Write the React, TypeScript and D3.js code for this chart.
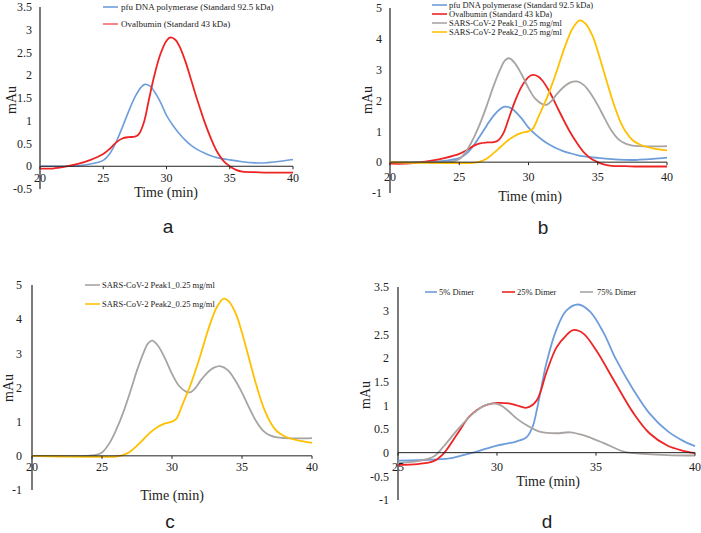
import React from "react";
import * as d3 from "d3";

type Pt = [number, number];

// ---- Data (time in min, absorbance in mAu) ----
const pfuPolymerase: Pt[] = [
  [20, 0], [21, 0], [22, 0], [23, 0.01], [24, 0.05], [25, 0.13], [25.5, 0.27], [26, 0.52],
  [26.5, 0.85], [27, 1.2], [27.5, 1.52], [28, 1.74], [28.3, 1.8], [28.7, 1.76], [29, 1.66],
  [29.5, 1.42], [30, 1.12], [30.5, 0.9], [31, 0.72], [31.5, 0.57], [32, 0.45], [32.5, 0.36],
  [33, 0.29], [33.5, 0.23], [34, 0.19], [35, 0.14], [36, 0.1], [37, 0.075], [37.5, 0.07],
  [38, 0.08], [39, 0.11], [40, 0.15],
];
const ovalbumin: Pt[] = [
  [20, -0.05], [21, -0.05], [22, -0.01], [23, 0.05], [24, 0.14], [25, 0.27], [25.5, 0.38],
  [26, 0.52], [26.5, 0.61], [27, 0.64], [27.5, 0.65], [27.8, 0.7], [28.2, 0.95], [28.6, 1.45],
  [29, 1.95], [29.5, 2.45], [30, 2.76], [30.3, 2.83], [30.7, 2.78], [31, 2.65], [31.5, 2.3],
  [32, 1.85], [32.5, 1.4], [33, 0.98], [33.5, 0.62], [34, 0.32], [34.5, 0.12], [35, 0.0],
  [35.5, -0.08], [36, -0.12], [37, -0.13], [38, -0.14], [39, -0.14], [40, -0.14],
];
const sarsPeak1: Pt[] = [
  [20, 0], [22, -0.01], [24, 0], [24.5, 0.02], [25, 0.1], [25.5, 0.35], [26, 0.75], [26.5, 1.25],
  [27, 1.85], [27.5, 2.5], [28, 3.05], [28.3, 3.3], [28.6, 3.37], [29, 3.22], [29.5, 2.85],
  [30, 2.4], [30.5, 2.05], [31, 1.88], [31.3, 1.86], [31.7, 2.0], [32, 2.18], [32.5, 2.42],
  [33, 2.58], [33.5, 2.62], [34, 2.5], [34.5, 2.22], [35, 1.85], [35.5, 1.42], [36, 1.02],
  [36.5, 0.74], [37, 0.6], [37.5, 0.54], [38, 0.52], [39, 0.51], [40, 0.52],
];
const sarsPeak2: Pt[] = [
  [20, 0], [22, -0.02], [24, -0.03], [25, -0.03], [26, -0.02], [26.5, 0.02], [27, 0.12],
  [27.5, 0.3], [28, 0.5], [28.5, 0.7], [29, 0.85], [29.5, 0.95], [30, 1.0], [30.3, 1.08],
  [30.7, 1.45], [31, 1.75], [31.3, 2.05], [31.6, 2.4], [32, 2.9], [32.4, 3.45], [32.8, 3.95],
  [33.2, 4.35], [33.7, 4.6], [34.1, 4.5], [34.6, 4.12], [35, 3.6], [35.6, 2.7], [36, 2.1],
  [36.3, 1.7], [36.6, 1.35], [37, 1.0], [37.5, 0.72], [38, 0.58], [38.5, 0.5], [39, 0.45],
  [40, 0.38],
];
const dimer5: Pt[] = [
  [25, -0.17], [26, -0.16], [27, -0.14], [27.6, -0.12], [28.2, -0.06], [28.8, 0.0], [29.4, 0.08],
  [30, 0.15], [30.5, 0.19], [31, 0.24], [31.5, 0.33], [31.8, 0.55], [32, 0.88], [32.25, 1.4],
  [32.5, 1.9], [33, 2.6], [33.5, 3.0], [34.1, 3.13], [34.7, 2.98], [35.4, 2.52], [36, 1.98],
  [36.9, 1.32], [37.7, 0.83], [38.6, 0.46], [39.4, 0.25], [40, 0.14],
];
const dimer25: Pt[] = [
  [25, -0.26], [26, -0.24], [26.8, -0.18], [27.3, -0.02], [28, 0.4], [28.6, 0.76], [29.3, 0.98],
  [30, 1.05], [30.6, 1.04], [31, 1.0], [31.5, 0.95], [32, 1.1], [32.5, 1.7], [33, 2.22],
  [33.5, 2.48], [33.85, 2.59], [34.35, 2.52], [35, 2.17], [35.9, 1.53], [36.9, 0.83],
  [37.7, 0.41], [38.6, 0.15], [39.4, 0.04], [40, -0.01],
];
const dimer75: Pt[] = [
  [25, -0.22], [26, -0.18], [26.8, -0.08], [27.3, 0.13], [28, 0.48], [28.8, 0.83], [29.4, 1.0],
  [29.8, 1.04], [30.2, 1.0], [30.6, 0.87], [31, 0.72], [31.5, 0.58], [32.2, 0.44], [33, 0.41],
  [33.7, 0.43], [34.35, 0.37], [35.4, 0.2], [36.4, 0.02], [36.9, -0.01], [38.6, -0.05],
  [40, -0.06],
];

const ticksA_x = [20, 25, 30, 35, 40];
const ticksA_y = [-0.5, 0, 0.5, 1, 1.5, 2, 2.5, 3, 3.5];
const ticksB_y = [-1, 0, 1, 2, 3, 4, 5];
const ticksD_x = [25, 30, 35, 40];
const ticksD_y = [-1, -0.5, 0, 0.5, 1, 1.5, 2, 2.5, 3, 3.5];

const labelPfu = "pfu DNA polymerase (Standard 92.5 kDa)";
const labelOva = "Ovalbumin (Standard 43 kDa)";
const labelP1 = "SARS-CoV-2 Peak1_0.25 mg/ml";
const labelP2 = "SARS-CoV-2 Peak2_0.25 mg/ml";
const labelD5 = "5% Dimer";
const labelD25 = "25% Dimer";
const labelD75 = "75% Dimer";

const BLUE = "#6e9ddb";
const RED = "#ee2424";
const GRAY = "#a8a4a2";
const YELLOW = "#ffc000";
const SERIF = "'Liberation Serif', 'Times New Roman', serif";
const SANS = "'Liberation Sans', Arial, sans-serif";

type Series = { data: Pt[]; color: string; width: number };
type LegendItem = { label: string; color: string; x1: number; x2: number; tx: number; y: number };

interface PanelProps {
  xDomain: [number, number];
  yDomain: [number, number];
  xRange: [number, number];
  yRange: [number, number];
  xTicks: number[];
  yTicks: number[];
  series: Series[];
  legend: LegendItem[];
  legendSize: number;
  yLabelGap: number;
  xLabelBaseline: number;
  titleX: number;
  titleY: number;
  mauX: number;
  mauY: number;
  letter: string;
  letterX: number;
  letterY: number;
}

function Panel(p: PanelProps) {
  const x = d3.scaleLinear().domain(p.xDomain).range(p.xRange);
  const y = d3.scaleLinear().domain(p.yDomain).range(p.yRange);
  const line = d3
    .line<Pt>()
    .x((d) => x(d[0]))
    .y((d) => y(d[1]))
    .curve(d3.curveCatmullRom.alpha(0.5));
  const y0 = y(0);
  return (
    <g>
      <line x1={p.xRange[0]} x2={p.xRange[0]} y1={p.yRange[1]} y2={p.yRange[0]} stroke="#222" strokeWidth={1.2} />
      {p.yTicks.map((t) => (
        <text key={"y" + t} x={p.xRange[0] - p.yLabelGap} y={y(t)} dy="0.35em" textAnchor="end"
          fontFamily={SERIF} fontSize={12} fill="#222">{String(t)}</text>
      ))}
      {p.series.map((s, i) => (
        <path key={i} d={line(s.data) || ""} fill="none" stroke={s.color} strokeWidth={s.width}
          strokeLinejoin="round" />
      ))}
      <line x1={p.xRange[0]} x2={p.xRange[1]} y1={y0} y2={y0} stroke="#222" strokeWidth={1} />
      {p.xTicks.map((t) => (
        <g key={"x" + t}>
          <line x1={x(t)} x2={x(t)} y1={y0} y2={y0 + 3} stroke="#222" strokeWidth={1} />
          <text x={x(t)} y={p.xLabelBaseline} textAnchor="middle" fontFamily={SERIF} fontSize={12}
            fill="#222">{String(t)}</text>
        </g>
      ))}
      <text x={p.titleX} y={p.titleY} textAnchor="middle" fontFamily={SERIF} fontSize={14} fill="#222">
        Time (min)
      </text>
      <text transform={`translate(${p.mauX},${p.mauY}) rotate(-90)`} textAnchor="middle" dy="0.35em"
        fontFamily={SERIF} fontSize={14} fill="#222">mAu</text>
      {p.legend.map((l, i) => (
        <g key={"l" + i}>
          <line x1={l.x1} x2={l.x2} y1={l.y} y2={l.y} stroke={l.color} strokeWidth={1.6} />
          <text x={l.tx} y={l.y} dy="0.33em" fontFamily={SERIF} fontSize={p.legendSize} fill="#222">
            {l.label}
          </text>
        </g>
      ))}
      <text x={p.letterX} y={p.letterY} textAnchor="middle" fontFamily={SANS} fontSize={19} fill="#222">
        {p.letter}
      </text>
    </g>
  );
}

export default function App() {
  return (
    <svg width={701} height={533} style={{ position: "absolute", left: 0, top: 0, background: "#fff" }}>
      <rect width={701} height={533} fill="#fff" />
      <Panel
        xDomain={[20, 40]} yDomain={[-0.5, 3.5]} xRange={[40, 293]} yRange={[189, 7]}
        xTicks={ticksA_x} yTicks={ticksA_y}
        series={[
          { data: pfuPolymerase, color: BLUE, width: 1.6 },
          { data: ovalbumin, color: RED, width: 1.8 },
        ]}
        legend={[
          { label: labelPfu, color: BLUE, x1: 103, x2: 118, tx: 121, y: 7 },
          { label: labelOva, color: "#f26a6a", x1: 103, x2: 118, tx: 121, y: 24 },
        ]}
        legendSize={9}
        yLabelGap={8} xLabelBaseline={182}
        titleX={166} titleY={197} mauX={11} mauY={100}
        letter="a" letterX={168} letterY={233}
      />
      <Panel
        xDomain={[20, 40]} yDomain={[-1, 5]} xRange={[390, 667]} yRange={[193, 8]}
        xTicks={ticksA_x} yTicks={ticksB_y}
        series={[
          { data: pfuPolymerase, color: BLUE, width: 1.8 },
          { data: ovalbumin, color: RED, width: 1.8 },
          { data: sarsPeak1, color: GRAY, width: 1.8 },
          { data: sarsPeak2, color: YELLOW, width: 1.8 },
        ]}
        legend={[
          { label: labelPfu, color: BLUE, x1: 432, x2: 447, tx: 449, y: 5 },
          { label: labelOva, color: RED, x1: 432, x2: 447, tx: 449, y: 14 },
          { label: labelP1, color: GRAY, x1: 432, x2: 447, tx: 449, y: 23 },
          { label: labelP2, color: YELLOW, x1: 432, x2: 447, tx: 449, y: 32 },
        ]}
        legendSize={8.5}
        yLabelGap={8} xLabelBaseline={181}
        titleX={530} titleY={201} mauX={367} mauY={100}
        letter="b" letterX={543} letterY={234}
      />
      <Panel
        xDomain={[20, 40]} yDomain={[-1, 5]} xRange={[32, 312]} yRange={[490, 285]}
        xTicks={ticksA_x} yTicks={ticksB_y}
        series={[
          { data: sarsPeak1, color: GRAY, width: 1.8 },
          { data: sarsPeak2, color: YELLOW, width: 1.8 },
        ]}
        legend={[
          { label: labelP1, color: GRAY, x1: 85, x2: 100, tx: 102, y: 285 },
          { label: labelP2, color: YELLOW, x1: 85, x2: 100, tx: 102, y: 304 },
        ]}
        legendSize={8.5}
        yLabelGap={10} xLabelBaseline={471}
        titleX={172} titleY={500} mauX={8} mauY={388}
        letter="c" letterX={170} letterY={528}
      />
      <Panel
        xDomain={[25, 40]} yDomain={[-1, 3.5]} xRange={[398, 695]} yRange={[500, 287]}
        xTicks={ticksD_x} yTicks={ticksD_y}
        series={[
          { data: dimer5, color: BLUE, width: 1.8 },
          { data: dimer25, color: RED, width: 1.8 },
          { data: dimer75, color: GRAY, width: 1.8 },
        ]}
        legend={[
          { label: labelD5, color: BLUE, x1: 425, x2: 437, tx: 439, y: 292 },
          { label: labelD25, color: RED, x1: 502, x2: 515, tx: 517, y: 292 },
          { label: labelD75, color: GRAY, x1: 580, x2: 593, tx: 597, y: 292 },
        ]}
        legendSize={8.5}
        yLabelGap={9} xLabelBaseline={471}
        titleX={548} titleY={486} mauX={365} mauY={395}
        letter="d" letterX={547} letterY={528}
      />
    </svg>
  );
}
